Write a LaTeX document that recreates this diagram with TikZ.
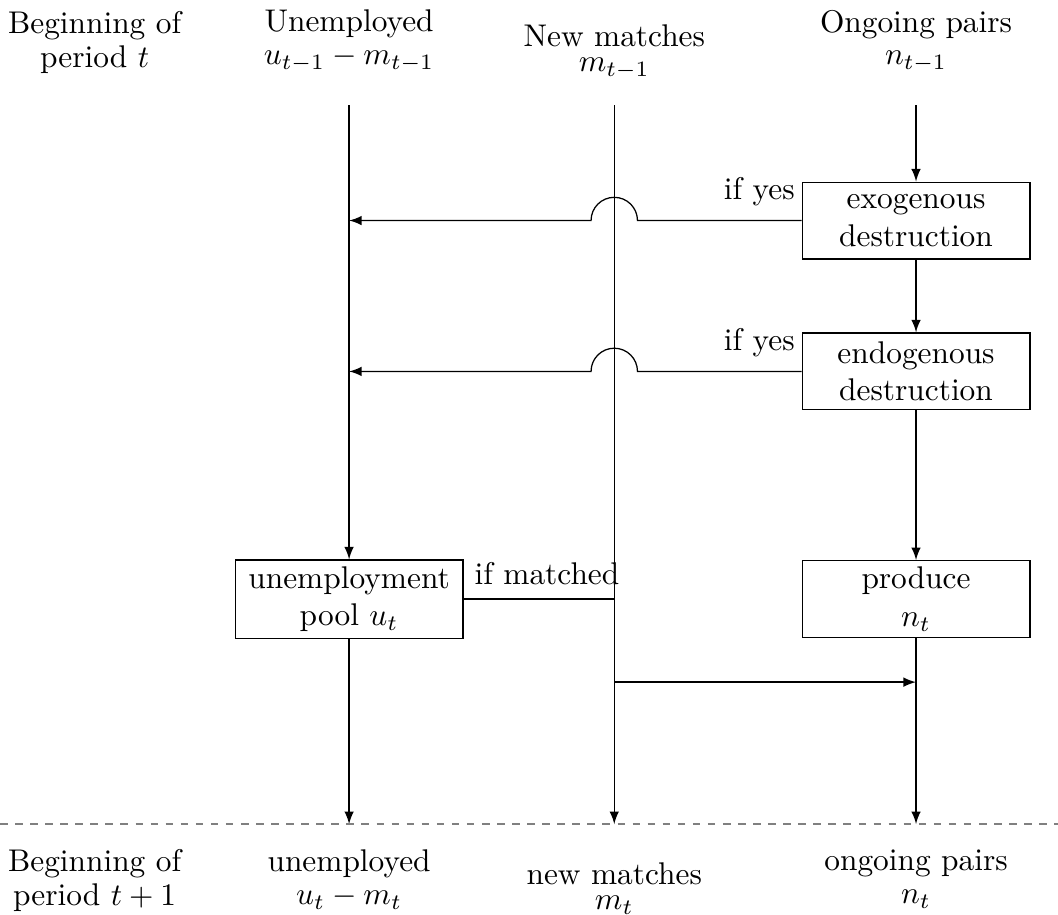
\documentclass[tikz,border=0pt]{standalone}
\usepackage{amsmath}
\usepackage{tikz}
\usetikzlibrary{calc}

\tikzset{
  stage/.style={rectangle, draw, minimum width=2.55cm, minimum height=0.86cm, align=center, inner sep=2pt},
  lab/.style={align=center, inner sep=0pt},
  flow/.style={->, >=latex}
}

\begin{document}
\begin{tikzpicture}
\useasboundingbox (0,0) rectangle (11.85,-10.24);

% labels at the top and the bottom
\node[lab] (begT) at (1.06,-0.48) {Beginning of\\[-1.2pt]period $t$};
\node[lab] (unempT) at (3.91,-0.46) {Unemployed\\[-1.5pt]$u_{t-1}-m_{t-1}$};
\node[lab] (matchT) at (6.88,-0.58) {New matches\\[-4pt]$m_{t-1}$};
\node[lab] (pairsT) at (10.26,-0.46) {Ongoing pairs\\[-1.5pt]$n_{t-1}$};

\node[lab] (begB) at (1.06,-9.86) {Beginning of\\[-1.2pt]period $t+1$};
\node[lab] (unempB) at (3.91,-9.85) {unemployed\\[-1.5pt]$u_t-m_t$};
\node[lab] (matchB) at (6.88,-9.95) {new matches\\[-4pt]$m_t$};
\node[lab] (pairsB) at (10.26,-9.85) {ongoing pairs\\[-1.5pt]$n_t$};

% column ends
\coordinate (u0) at (3.91,-1.18);
\coordinate (m0) at (6.88,-1.18);
\coordinate (n0) at (10.26,-1.18);
\coordinate (u1) at (3.91,-9.23);
\coordinate (m1) at (6.88,-9.23);
\coordinate (n1) at (10.26,-9.23);
\coordinate (join) at (10.26,-7.64);
\coordinate (d0) at (0,-9.23);
\coordinate (d1) at (11.85,-9.23);

% boxes
\node[stage] (exo) at (10.26,-2.47) {exogenous\\destruction};
\node[stage] (endo) at (10.26,-4.16) {endogenous\\destruction};
\node[stage] (pool) at (3.91,-6.71) {unemployment\\pool $u_t$};
\node[stage] (produce) at (10.26,-6.71) {produce\\$n_t$};

% ongoing pairs
\draw[flow] (n0) -- (exo.north);
\draw[flow] (exo.south) -- (endo.north);
\draw[flow] (endo.south) -- (produce.north);
\draw[flow] (produce.south) -- (n1);

% separations, hopping over the new matches
\draw[flow] (exo.west) node[above left, inner sep=2pt, yshift=2.5pt] {if yes}
  -- ($(m0 |- exo)+(0.26,0)$) arc[start angle=0, end angle=180, radius=0.26] -- (u0 |- exo);
\draw[flow] (endo.west) node[above left, inner sep=2pt, yshift=2.5pt] {if yes}
  -- ($(m0 |- endo)+(0.26,0)$) arc[start angle=0, end angle=180, radius=0.26] -- (u0 |- endo);

% unemployed and new matches
\draw[flow] (u0) -- (pool.north);
\draw[flow] (m0) |- (join);
\draw[flow] (pool.east) node[above right, yshift=1pt] {if matched} -| (m1);
\draw[flow] (pool.south) -- (u1);

\draw[gray, dash pattern=on 2.4pt off 2.4pt] (d0) -- (d1);
\end{tikzpicture}
\end{document}
